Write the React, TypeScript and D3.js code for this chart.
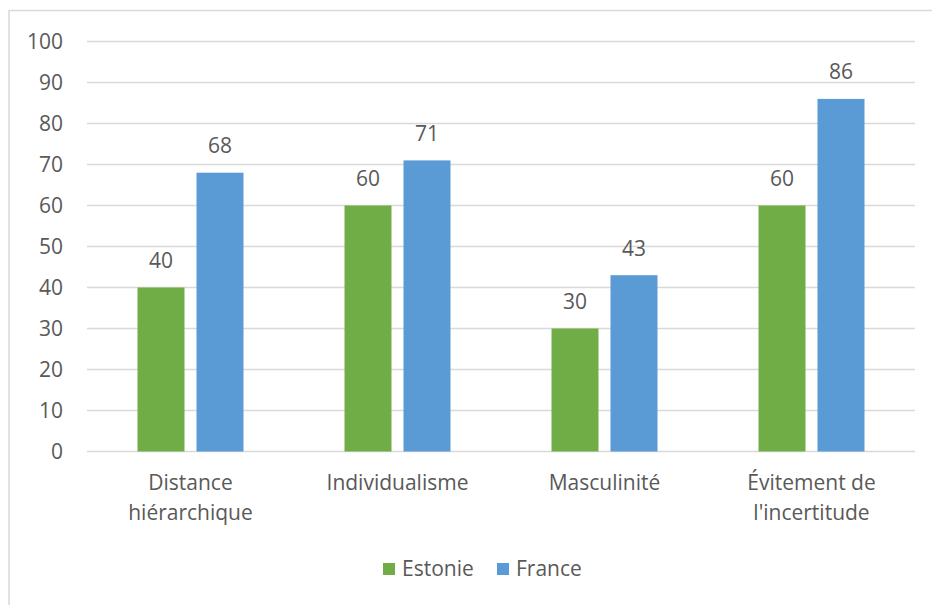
import React from "react";
import * as d3 from "d3";

const categories: string[][] = [
  ["Distance", "hiérarchique"],
  ["Individualisme"],
  ["Masculinité"],
  ["Évitement de", "l'incertitude"],
];
const seriesNames = ["Estonie", "France"];
const estonie = [40, 60, 30, 60];
const france = [68, 71, 43, 86];
const yTicks = [0, 10, 20, 30, 40, 50, 60, 70, 80, 90, 100];
const colors = ["#70AD47", "#5B9BD5"];

const W = 932;
const H = 605;
const FONT = "'Open Sans', 'Liberation Sans', sans-serif";
const TEXT = "#595959";
const FS = 21;

export default function App() {
  const catKeys = categories.map((c) => c.join(" "));
  const x0 = d3.scaleBand<string>().domain(catKeys).range([87, 915]).paddingInner(0).paddingOuter(0);
  const x1 = d3
    .scaleBand<string>()
    .domain(seriesNames)
    .range([-53, 53])
    .paddingInner(12 / 59)
    .paddingOuter(0);
  const y = d3.scaleLinear().domain([0, 100]).range([451.5, 41.5]);
  const values = [estonie, france];

  return (
    <svg
      width={W}
      height={H}
      style={{ position: "absolute", left: 0, top: 0, background: "#fff" }}
      fontFamily={FONT}
    >
      <rect x={9} y={10.5} width={940} height={620} fill="#fff" stroke="#d9d9d9" strokeWidth={1.5} />
      {yTicks.map((t) => (
        <g key={t}>
          <line x1={87} x2={915} y1={y(t)} y2={y(t)} stroke="#d9d9d9" strokeWidth={1.5} />
          <text x={63} y={y(t)} dy="0.35em" textAnchor="end" fontSize={FS} fill={TEXT}>
            {t}
          </text>
        </g>
      ))}
      {catKeys.map((k, i) => {
        const cx = (x0(k) as number) + x0.bandwidth() / 2;
        return (
          <g key={k}>
            {seriesNames.map((s, si) => {
              const v = values[si][i];
              const bx = cx + (x1(s) as number);
              return (
                <g key={s}>
                  <rect x={bx} y={y(v)} width={x1.bandwidth()} height={y(0) - y(v)} fill={colors[si]} />
                  <text
                    x={bx + x1.bandwidth() / 2}
                    y={y(v) - 27}
                    dy="0.35em"
                    textAnchor="middle"
                    fontSize={FS}
                    fill={TEXT}
                  >
                    {v}
                  </text>
                </g>
              );
            })}
            {categories[i].map((line, li) => (
              <text
                key={li}
                x={cx}
                y={483 + li * 30}
                dy="0.35em"
                textAnchor="middle"
                fontSize={FS}
                fill={TEXT}
              >
                {line}
              </text>
            ))}
          </g>
        );
      })}
      <g>
        <rect x={383} y={563} width={12} height={12} fill={colors[0]} />
        <text x={402} y={569} dy="0.35em" fontSize={FS} fill={TEXT}>
          {seriesNames[0]}
        </text>
        <rect x={497} y={563} width={12} height={12} fill={colors[1]} />
        <text x={516} y={569} dy="0.35em" fontSize={FS} fill={TEXT}>
          {seriesNames[1]}
        </text>
      </g>
    </svg>
  );
}
